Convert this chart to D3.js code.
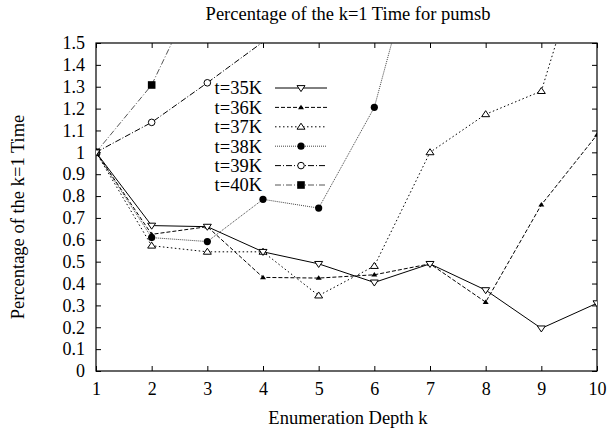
<!DOCTYPE html>
<html><head><meta charset="utf-8">
<script src="https://cdn.jsdelivr.net/npm/d3@7"></script>
<style>
body{margin:0;background:#fff;}
svg text{font-family:"Liberation Serif","Times New Roman",Times,serif !important;fill:#000;}
</style></head>
<body><svg id="c" width="613" height="433"></svg>
<script>
const ks = [1,2,3,4,5,6,7,8,9,10];
const yTicks = [0,0.1,0.2,0.3,0.4,0.5,0.6,0.7,0.8,0.9,1,1.1,1.2,1.3,1.4,1.5];
const seriesNames = ["t=35K","t=36K","t=37K","t=38K","t=39K","t=40K"];
const t35 = [1,0.665,0.66,0.545,0.49,0.405,0.49,0.37,0.195,0.31];
const t36 = [1,0.625,0.66,0.428,0.425,0.44,0.49,0.315,0.76,1.08];
const t37 = [1,0.573,0.545,0.545,0.345,0.48,1.0,1.174,1.28,2.11];
const t38 = [1,0.61,0.592,0.785,0.745,1.206,2.15];
const t39 = [1,1.137,1.318,1.505];
const t40 = [1,1.308,1.84];
const title = "Percentage of the k=1 Time for pumsb";
const xLabel = "Enumeration Depth k";
const yLabel = "Percentage of the k=1 Time";

const series = [
  {name:seriesNames[0], vals:t35, dash:null, color:"#000", w:1, marker:"tridown"},
  {name:seriesNames[1], vals:t36, dash:"4,2", color:"#000", w:1, marker:"triup_small"},
  {name:seriesNames[2], vals:t37, dash:"1.5,2.5", color:"#000", w:1, marker:"triup"},
  {name:seriesNames[3], vals:t38, dash:"1,1", color:"#444", w:1, marker:"circle"},
  {name:seriesNames[4], vals:t39, dash:"6,2,1,2", color:"#000", w:1, marker:"ocircle"},
  {name:seriesNames[5], vals:t40, dash:"6,2,1,2", color:"#555", w:1, marker:"square"}
];

const FONT = '"Liberation Serif","Times New Roman",Times,serif';
const svg = d3.select("#c");
const L=96, R=597, T=43, B=371;
const x = d3.scaleLinear().domain([1,10]).range([L,R]);
const y = d3.scaleLinear().domain([0,1.5]).range([B,T]);

svg.append("defs").append("clipPath").attr("id","clip")
  .append("rect").attr("x",L).attr("y",T).attr("width",R-L).attr("height",B-T);

const fmt = d => d3.format("~g")(d);
const gl = svg.append("g").attr("transform",`translate(${L},0)`)
  .call(d3.axisLeft(y).tickValues(yTicks).tickFormat(fmt).tickSizeInner(-5).tickSizeOuter(0).tickPadding(11));
const gr = svg.append("g").attr("transform",`translate(${R},0)`)
  .call(d3.axisRight(y).tickValues(yTicks).tickFormat("").tickSizeInner(-5).tickSizeOuter(0));
const gb = svg.append("g").attr("transform",`translate(0,${B})`)
  .call(d3.axisBottom(x).tickValues(ks).tickFormat(d3.format("d")).tickSizeInner(-5).tickSizeOuter(0).tickPadding(11));
const gt = svg.append("g").attr("transform",`translate(0,${T})`)
  .call(d3.axisTop(x).tickValues(ks).tickFormat("").tickSizeInner(-5).tickSizeOuter(0));
[gl,gr,gb,gt].forEach(g=>{
  g.attr("font-family",FONT).attr("font-size",18);
  g.selectAll(".domain").remove();
  g.selectAll(".tick line").attr("stroke","#000");
  g.selectAll("text").attr("fill","#000");
});
svg.append("rect").attr("x",L).attr("y",T).attr("width",R-L).attr("height",B-T)
  .attr("fill","none").attr("stroke","#000").attr("stroke-width",1.2);

svg.append("text").attr("x",348).attr("y",20).attr("text-anchor","middle")
  .attr("font-family",FONT).attr("font-size",18.5).text(title);
svg.append("text").attr("x",348).attr("y",424).attr("text-anchor","middle")
  .attr("font-family",FONT).attr("font-size",18.5).text(xLabel);
svg.append("text").attr("transform",`translate(18,217) rotate(-90)`).attr("text-anchor","middle")
  .attr("dy","0.35em").attr("font-family",FONT).attr("font-size",18.5).text(yLabel);

function drawMarker(g, type, cx, cy){
  const s=4;
  if(type==="tridown"){
    g.append("path").attr("d",`M${cx-s},${cy-s*0.6}L${cx+s},${cy-s*0.6}L${cx},${cy+s*0.9}Z`).attr("fill","#fff").attr("stroke","#000").attr("stroke-width",1);
  } else if(type==="triup"){
    g.append("path").attr("d",`M${cx-s},${cy+s*0.6}L${cx+s},${cy+s*0.6}L${cx},${cy-s*0.9}Z`).attr("fill","#fff").attr("stroke","#000").attr("stroke-width",1);
  } else if(type==="triup_small"){
    const t=3;
    g.append("path").attr("d",`M${cx-t},${cy+t*0.6}L${cx+t},${cy+t*0.6}L${cx},${cy-t*0.9}Z`).attr("fill","#000");
  } else if(type==="circle"){
    g.append("circle").attr("cx",cx).attr("cy",cy).attr("r",3.6).attr("fill","#000");
  } else if(type==="ocircle"){
    g.append("circle").attr("cx",cx).attr("cy",cy).attr("r",3.3).attr("fill","#fff").attr("stroke","#000").attr("stroke-width",1);
  } else if(type==="square"){
    g.append("rect").attr("x",cx-3.8).attr("y",cy-3.8).attr("width",7.6).attr("height",7.6).attr("fill","#000");
  }
}

const plot = svg.append("g").attr("clip-path","url(#clip)");
const line = d3.line().x((d,i)=>x(ks[i])).y(d=>y(d));
series.slice().reverse().forEach(s=>{
  plot.append("path").attr("d",line(s.vals)).attr("fill","none").attr("stroke",s.color)
    .attr("stroke-width",s.w).attr("stroke-dasharray",s.dash);
});
series.slice().reverse().forEach(s=>{
  s.vals.forEach((v,i)=>{ if(v<=1.5) drawMarker(plot,s.marker,x(ks[i]),y(v)); });
});

const lg = svg.append("g");
series.forEach((s,i)=>{
  const ly = 88 + i*19.4;
  lg.append("text").attr("x",262).attr("y",ly).attr("dy","0.35em").attr("text-anchor","end")
    .attr("font-family",FONT).attr("font-size",18.5).text(s.name);
  lg.append("line").attr("x1",275).attr("x2",327).attr("y1",ly).attr("y2",ly)
    .attr("stroke",s.color).attr("stroke-width",s.w).attr("stroke-dasharray",s.dash);
  drawMarker(lg,s.marker,301,ly);
});
</script></body></html>
